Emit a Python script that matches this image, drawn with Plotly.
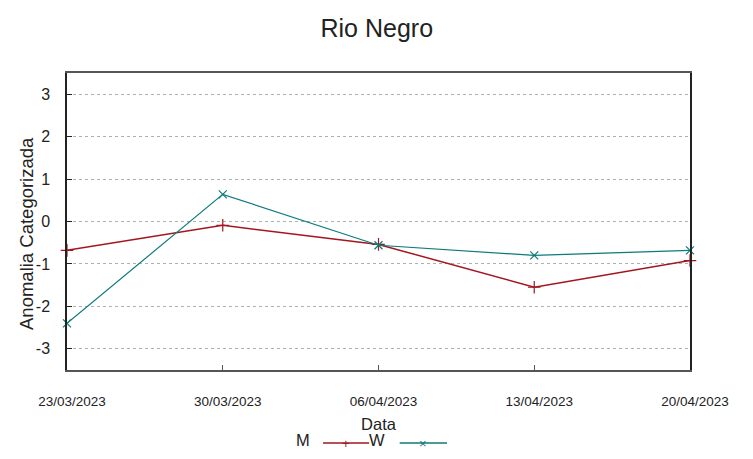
import plotly.graph_objects as go

dates = ["2023-03-23", "2023-03-30", "2023-04-06", "2023-04-13", "2023-04-20"]
tick_labels = ["23/03/2023", "30/03/2023", "06/04/2023", "13/04/2023", "20/04/2023"]
m_values = [-0.68, -0.09, -0.54, -1.55, -0.92]
w_values = [-2.40, 0.64, -0.56, -0.80, -0.68]
y_ticks = [-3, -2, -1, 0, 1, 2, 3]
y_tick_labels = ["-3", "-2", "-1", "0", "1", "2", "3"]

M_COLOR = "#a3161f"
W_COLOR = "#0e7b7b"
FONT = "Liberation Sans"

fig = go.Figure()
fig.add_trace(go.Scatter(x=dates, y=m_values, name="M", mode="lines+markers",
                         line=dict(color=M_COLOR, width=1.5),
                         marker=dict(symbol="cross-thin", size=9,
                                     line=dict(color=M_COLOR, width=1.2)),
                         cliponaxis=False))
fig.add_trace(go.Scatter(x=dates, y=w_values, name="W", mode="lines+markers",
                         line=dict(color=W_COLOR, width=1.2),
                         marker=dict(symbol="x-thin", size=8,
                                     line=dict(color=W_COLOR, width=1.2)),
                         cliponaxis=False))

fig.update_layout(
    width=745, height=451,
    margin=dict(l=59, r=63, t=65, b=89),
    paper_bgcolor="white", plot_bgcolor="white",
    font=dict(family=FONT, color="#222222"),
    showlegend=False,
    title=dict(text="Rio Negro", x=0.495, xanchor="center", y=0.956, yanchor="middle",
               font=dict(size=25, color="#222222")),
)
fig.update_xaxes(
    range=[dates[0], dates[-1]],
    tickvals=dates, ticktext=tick_labels,
    tickfont=dict(size=13.5),
    ticks="inside", ticklen=5, tickcolor="#555555",
    ticklabelstandoff=18, ticklabelshift=5,
    showgrid=False, zeroline=False,
    showline=True, mirror=True, linecolor="#555555", linewidth=1.5,
    title=dict(text="Data", font=dict(size=16.5), standoff=10),
)
fig.update_yaxes(
    range=[-3.5, 3.5], tickvals=y_ticks, ticktext=y_tick_labels,
    tickfont=dict(size=16),
    ticks="inside", ticklen=5, tickcolor="#222222",
    ticklabelstandoff=12,
    showgrid=True, gridcolor="#b0b0b0", griddash="dot", gridwidth=1,
    zeroline=False,
    showline=True, mirror=True, linecolor="#222222", linewidth=1.5,
)

# y-axis title, placed slightly below centre as in the reference
fig.add_annotation(xref="paper", yref="paper", x=-0.066, y=0.461,
                   text="Anomalia Categorizada", textangle=-90, showarrow=False,
                   font=dict(size=18.5, color="#222222"),
                   xanchor="center", yanchor="middle")

# gnuplot-style legend below the plot: label followed by line sample
leg_text_y = -0.236
leg_line_y = -0.246
for label, color, sym, x0, x1, tx in [("M", M_COLOR, "+", 0.411, 0.485, 0.379),
                                       ("W", W_COLOR, "×", 0.534, 0.610, 0.498)]:
    fig.add_annotation(xref="paper", yref="paper", x=tx, y=leg_text_y, text=label,
                       showarrow=False, font=dict(size=16.5, color="#222222"),
                       xanchor="center", yanchor="middle")
    fig.add_shape(type="line", xref="paper", yref="paper", x0=x0, x1=x1,
                  y0=leg_line_y, y1=leg_line_y, line=dict(color=color, width=1.5))
    fig.add_annotation(xref="paper", yref="paper", x=(x0 + x1) / 2, y=leg_line_y,
                       text=sym, showarrow=False,
                       font=dict(size=13, color=color),
                       xanchor="center", yanchor="middle")

fig.write_html("out.html")
